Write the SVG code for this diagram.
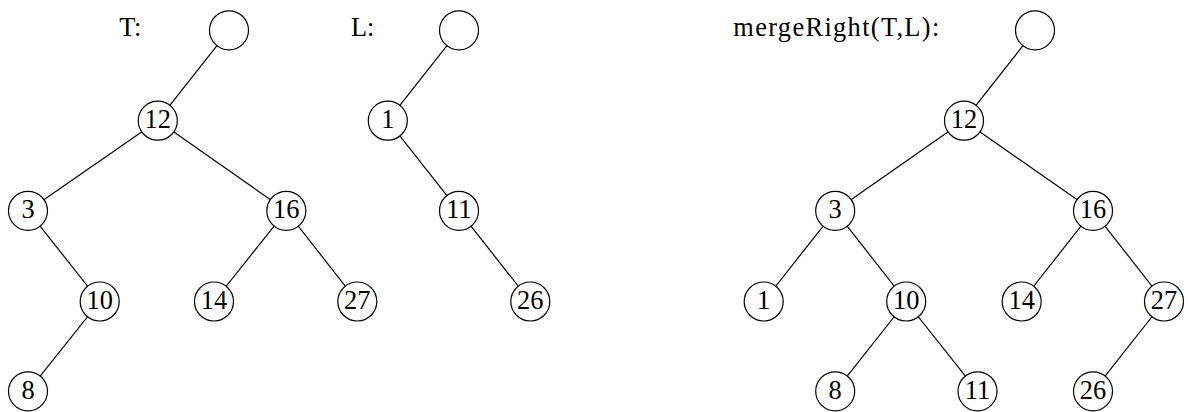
<svg xmlns="http://www.w3.org/2000/svg" width="1188" height="412" viewBox="0 0 1188 412" font-family="'Liberation Serif', 'DejaVu Serif', serif" font-size="26.4">
<defs>
<style>
.e line{stroke:#000;stroke-width:1.2;fill:none}
.n circle{fill:#fff;stroke:#000;stroke-width:1.2}
</style>
</defs>
<rect width="1188" height="412" fill="#fff"/>
<g id="labels" font-family="'Liberation Serif', serif" font-size="26.4" fill="#000">
<text x="119.3" y="36">T:</text>
<text x="351" y="36">L:</text>
<text x="733.3" y="36" textLength="206" lengthAdjust="spacing">mergeRight(T,L):</text>
</g>
<g id="connectors" class="e" stroke="#000" stroke-width="1.2">
<line x1="229" y1="30.3" x2="157.8" y2="120.7"/>
<line x1="157.8" y1="120.7" x2="28" y2="210.8"/>
<line x1="157.8" y1="120.7" x2="286.3" y2="210.8"/>
<line x1="28" y1="210.8" x2="99.7" y2="301.5"/>
<line x1="99.7" y1="301.5" x2="28" y2="391.3"/>
<line x1="286.3" y1="210.8" x2="214" y2="301.5"/>
<line x1="286.3" y1="210.8" x2="357.3" y2="301.5"/>
<line x1="459" y1="30.3" x2="387.8" y2="120.7"/>
<line x1="387.8" y1="120.7" x2="459" y2="210.8"/>
<line x1="459" y1="210.8" x2="530.3" y2="301.5"/>
<line x1="1035" y1="30.3" x2="964" y2="120.7"/>
<line x1="964" y1="120.7" x2="835.2" y2="210.8"/>
<line x1="964" y1="120.7" x2="1093" y2="210.8"/>
<line x1="835.2" y1="210.8" x2="763.7" y2="301.5"/>
<line x1="835.2" y1="210.8" x2="906.2" y2="301.5"/>
<line x1="906.2" y1="301.5" x2="835.2" y2="391.3"/>
<line x1="906.2" y1="301.5" x2="977.5" y2="391.3"/>
<line x1="1093" y1="210.8" x2="1021.7" y2="301.5"/>
<line x1="1093" y1="210.8" x2="1164" y2="301.5"/>
<line x1="1164" y1="301.5" x2="1093" y2="391.3"/>
</g>
<g id="nodes" font-family="'Liberation Serif', serif" font-size="26.4" text-anchor="middle" fill="#000">
<g id="t_root" class="n"><circle cx="229" cy="30.3" r="19.5"/></g>
<g id="t_12" class="n"><circle cx="157.8" cy="120.7" r="19.5"/><text x="157.8" y="128">12</text></g>
<g id="t_3" class="n"><circle cx="28" cy="210.8" r="19.5"/><text x="28" y="218.1">3</text></g>
<g id="t_16" class="n"><circle cx="286.3" cy="210.8" r="19.5"/><text x="286.3" y="218.1">16</text></g>
<g id="t_10" class="n"><circle cx="99.7" cy="301.5" r="19.5"/><text x="99.7" y="308.8">10</text></g>
<g id="t_14" class="n"><circle cx="214" cy="301.5" r="19.5"/><text x="214" y="308.8">14</text></g>
<g id="t_27" class="n"><circle cx="357.3" cy="301.5" r="19.5"/><text x="357.3" y="308.8">27</text></g>
<g id="t_8" class="n"><circle cx="28" cy="391.3" r="19.5"/><text x="28" y="398.6">8</text></g>
<g id="l_root" class="n"><circle cx="459" cy="30.3" r="19.5"/></g>
<g id="l_1" class="n"><circle cx="387.8" cy="120.7" r="19.5"/><text x="387.8" y="128">1</text></g>
<g id="l_11" class="n"><circle cx="459" cy="210.8" r="19.5"/><text x="459" y="218.1">11</text></g>
<g id="l_26" class="n"><circle cx="530.3" cy="301.5" r="19.5"/><text x="530.3" y="308.8">26</text></g>
<g id="m_root" class="n"><circle cx="1035" cy="30.3" r="19.5"/></g>
<g id="m_12" class="n"><circle cx="964" cy="120.7" r="19.5"/><text x="964" y="128">12</text></g>
<g id="m_3" class="n"><circle cx="835.2" cy="210.8" r="19.5"/><text x="835.2" y="218.1">3</text></g>
<g id="m_16" class="n"><circle cx="1093" cy="210.8" r="19.5"/><text x="1093" y="218.1">16</text></g>
<g id="m_1" class="n"><circle cx="763.7" cy="301.5" r="19.5"/><text x="763.7" y="308.8">1</text></g>
<g id="m_10" class="n"><circle cx="906.2" cy="301.5" r="19.5"/><text x="906.2" y="308.8">10</text></g>
<g id="m_14" class="n"><circle cx="1021.7" cy="301.5" r="19.5"/><text x="1021.7" y="308.8">14</text></g>
<g id="m_27" class="n"><circle cx="1164" cy="301.5" r="19.5"/><text x="1164" y="308.8">27</text></g>
<g id="m_8" class="n"><circle cx="835.2" cy="391.3" r="19.5"/><text x="835.2" y="398.6">8</text></g>
<g id="m_11" class="n"><circle cx="977.5" cy="391.3" r="19.5"/><text x="977.5" y="398.6">11</text></g>
<g id="m_26" class="n"><circle cx="1093" cy="391.3" r="19.5"/><text x="1093" y="398.6">26</text></g>
</g>
</svg>
